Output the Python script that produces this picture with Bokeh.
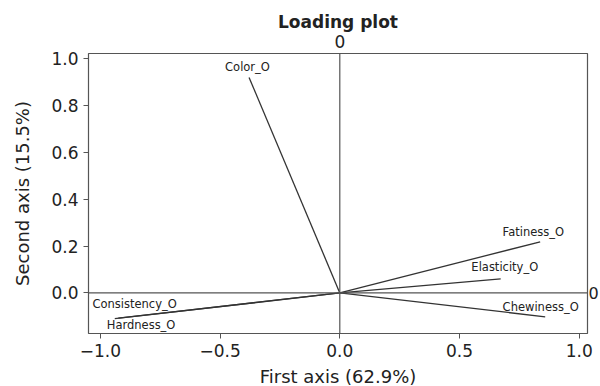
from bokeh.plotting import figure
from bokeh.models import (ColumnDataSource, Span, LinearAxis, FixedTicker,
                          CustomJSTickFormatter, Range1d)
from bokeh.core.properties import value
from bokeh.embed import file_html
from bokeh.resources import INLINE

# ---- data ----
variables = ["Color_O", "Consistency_O", "Hardness_O", "Fatiness_O", "Elasticity_O", "Chewiness_O"]
first_axis = [-0.379, -0.940, -0.925, 0.837, 0.672, 0.858]
second_axis = [0.919, -0.110, -0.108, 0.218, 0.060, -0.102]
x_ticks = [-1.0, -0.5, 0.0, 0.5, 1.0]
y_ticks = [0.0, 0.2, 0.4, 0.6, 0.8, 1.0]
origin_x = [0.0] * len(variables)
origin_y = [0.0] * len(variables)

# label placement (screen px offsets from vector tips)
label_dx = [-24, -22.3, -11.6, -37.6, -29.3, -42.6]
label_dy = [-10.6, -14.2, 6.3, -10.0, -11.7, -10.0]

FONT = "DejaVu Sans"
TXT = "#222222"
GRID = "#555555"

src = ColumnDataSource(dict(x0=origin_x, y0=origin_y, x1=first_axis, y1=second_axis,
                            name=variables, dx=label_dx, dy=label_dy))

p = figure(frame_width=499, frame_height=280,
           x_range=Range1d(-1.0497, 1.0347), y_range=Range1d(-0.1732, 1.0213),
           output_backend="svg", toolbar_location=None,
           min_border_left=88, min_border_right=13, min_border_top=53, min_border_bottom=53,
           x_axis_label="First axis (62.9%)", y_axis_label="Second axis (15.5%)")

p.title.text = "Loading plot"
p.title.text_font = FONT
p.title.text_font_size = "17px"
p.title.text_font_style = "bold"
p.title.align = "center"
p.title.text_color = TXT
p.title.standoff = 0
p.title.offset = 0

p.xgrid.visible = False
p.ygrid.visible = False
p.outline_line_color = GRID
p.outline_line_width = 1.2

fmt = CustomJSTickFormatter(code="return tick.toFixed(1).replace('-', '\u2212');")

for ax, ticks in ((p.xaxis[0], x_ticks), (p.yaxis[0], y_ticks)):
    ax.ticker = FixedTicker(ticks=ticks)
    ax.formatter = fmt
    ax.axis_line_color = None
    ax.major_tick_line_color = GRID
    ax.major_tick_in = 0
    ax.major_tick_out = 5
    ax.minor_tick_line_color = None
    ax.major_label_text_font = FONT
    ax.major_label_text_font_size = "17px"
    ax.major_label_text_color = TXT
    ax.major_label_standoff = 5
    ax.axis_label_text_font = FONT
    ax.axis_label_text_font_size = "18px"
    ax.axis_label_text_font_style = "normal"
    ax.axis_label_text_color = TXT
    ax.axis_label_standoff = 6
p.yaxis[0].axis_label_standoff = 15

zero_fmt = CustomJSTickFormatter(code="return '0';")
top = LinearAxis(ticker=FixedTicker(ticks=[0]), formatter=zero_fmt,
                 axis_line_color=None, major_tick_line_color=None, minor_tick_line_color=None,
                 major_label_text_font=FONT, major_label_text_font_size="17px",
                 major_label_text_color=TXT, major_label_standoff=0)
p.add_layout(top, "above")
right = LinearAxis(ticker=FixedTicker(ticks=[0]), formatter=zero_fmt,
                   axis_line_color=None, major_tick_line_color=None, minor_tick_line_color=None,
                   major_label_text_font=FONT, major_label_text_font_size="16px",
                   major_label_text_color=TXT, major_label_standoff=-5)
p.add_layout(right, "right")

p.add_layout(Span(location=0, dimension="height", line_color=GRID, line_width=1.2))
p.add_layout(Span(location=0, dimension="width", line_color=GRID, line_width=1.2))

p.segment(x0="x0", y0="y0", x1="x1", y1="y1", source=src, line_color="#333333", line_width=1.3)
p.text(x="x1", y="y1", text="name", x_offset="dx", y_offset="dy", source=src,
       text_font=value(FONT), text_font_size="11.5px", text_color=TXT,
       text_align="left", text_baseline="middle")

open("out.html", "w").write(file_html(p, INLINE))
